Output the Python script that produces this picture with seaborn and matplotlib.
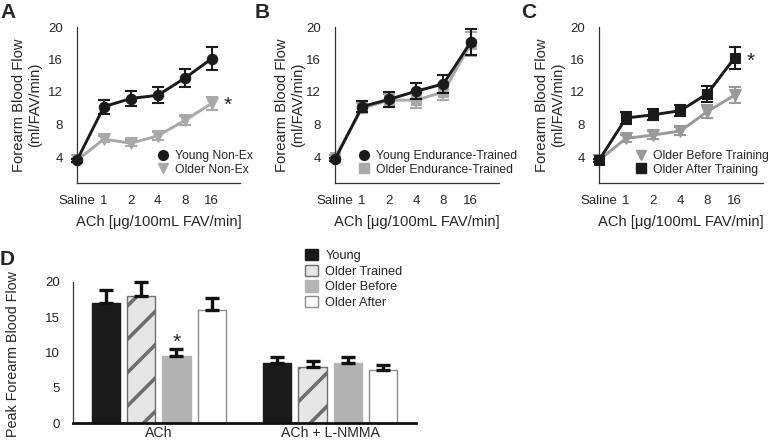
import numpy as np
import pandas as pd
import matplotlib
matplotlib.use('Agg')
import matplotlib.pyplot as plt
import seaborn as sns
from matplotlib.lines import Line2D
from matplotlib.patches import Patch

# dose labels for panels A-C
doses = ['Saline', '1', '2', '4', '8', '16']

# Panel A
young_nonex = [3.6, 10.2, 11.2, 11.6, 13.7, 16.1]
young_nonex_err = [0.2, 0.85, 0.9, 1.0, 1.1, 1.4]
older_nonex = [3.6, 6.2, 5.7, 6.6, 8.5, 10.6]
older_nonex_err = [0.2, 0.4, 0.35, 0.5, 0.6, 0.8]

# Panel B
young_trained = [3.7, 10.2, 11.1, 12.1, 13.0, 18.1]
young_trained_err = [0.2, 0.7, 0.9, 1.0, 1.1, 1.6]
older_trained = [4.0, 10.0, 11.0, 11.0, 12.0, 17.9]
older_trained_err = [0.2, 0.6, 0.8, 1.0, 1.0, 1.5]

# Panel C
older_before = [3.6, 6.3, 6.7, 7.2, 9.6, 11.6]
older_before_err = [0.2, 0.4, 0.5, 0.5, 0.8, 1.0]
older_after = [3.6, 8.8, 9.2, 9.7, 11.8, 16.2]
older_after_err = [0.2, 0.7, 0.7, 0.7, 1.0, 1.4]

# Panel D
conditions = ['ACh', 'ACh + L-NMMA']
groups = ['Young', 'Older Trained', 'Older Before', 'Older After']
peak_young = [17.0, 8.5]
peak_young_err = [1.9, 0.8]
peak_trained = [18.0, 7.9]
peak_trained_err = [2.0, 0.9]
peak_before = [9.5, 8.5]
peak_before_err = [1.0, 0.8]
peak_after = [16.0, 7.5]
peak_after_err = [1.8, 0.7]

sns.set_style('white')
plt.rcParams['font.family'] = ['Liberation Sans', 'DejaVu Sans']
plt.rcParams['hatch.linewidth'] = 2.6

W, H = 773, 447
fig = plt.figure(figsize=(W / 100, H / 100), dpi=100)

def rect(l, t, r, b):
    return [l / W, 1 - b / H, (r - l) / W, (b - t) / H]

BLACK = '#1a1a1a'
GREY = '#a9a9a9'

def line_panel(ax, series, leg_order, leg_x, ylab_x):
    pos = np.arange(len(doses))
    handles = {}
    for vals, err, color, marker, ms, label, z in series:
        sns.lineplot(x=pos, y=vals, color=color, linewidth=2.1, marker=marker,
                     markersize=ms, markeredgecolor=color, ax=ax, zorder=z,
                     clip_on=False)
        ax.errorbar(pos, vals, yerr=err, fmt='none', ecolor=color, elinewidth=1.5,
                    capsize=4, capthick=1.5, zorder=z, clip_on=False)
        handles[label] = Line2D([], [], linestyle='none', marker=marker, color=color,
                                markersize=ms - 0.5, label=label)
    ax.set_xlim(0, 6.05)
    ax.set_ylim(0.8, 20)
    ax.set_xticks(pos)
    ax.set_xticklabels(doses)
    ax.set_yticks([4, 8, 12, 16, 20])
    ax.tick_params(axis='both', length=0, labelsize=9.5)
    ax.tick_params(axis='x', pad=8.5)
    ax.tick_params(axis='y', pad=10)
    for s in ['top', 'right']:
        ax.spines[s].set_visible(False)
    for s in ['left', 'bottom']:
        ax.spines[s].set_color('#333333')
        ax.spines[s].set_linewidth(0.9)
    ax.set_ylabel('Forearm Blood Flow\n(ml/FAV/min)', fontsize=10.6, linespacing=1.2)
    ax.yaxis.set_label_coords(ylab_x, 0.5)
    ax.set_xlabel('ACh [\u03bcg/100mL FAV/min]', fontsize=10.6, labelpad=6)
    ax.legend(handles=[handles[k] for k in leg_order], loc='center left',
              bbox_to_anchor=(leg_x, 0.13), frameon=False, fontsize=8.7,
              handlelength=1.0, handletextpad=0.5, labelspacing=0.15,
              borderpad=0, borderaxespad=0)

# A
axA = fig.add_axes(rect(77, 27, 240, 183))
line_panel(axA, [
    (older_nonex, older_nonex_err, GREY, 'v', 8, 'Older Non-Ex', 2),
    (young_nonex, young_nonex_err, BLACK, 'o', 7.5, 'Young Non-Ex', 3),
], ['Young Non-Ex', 'Older Non-Ex'], 0.49, -0.215)
axA.text(5.6, 10.4, '*', fontsize=15, ha='center', va='center')

# B
axB = fig.add_axes(rect(335, 27, 499, 183))
line_panel(axB, [
    (older_trained, older_trained_err, GREY, 's', 7, 'Older Endurance-Trained', 2),
    (young_trained, young_trained_err, BLACK, 'o', 7.5, 'Young Endurance-Trained', 3),
], ['Young Endurance-Trained', 'Older Endurance-Trained'], 0.14, -0.183)

# C
axC = fig.add_axes(rect(599, 27, 763, 183))
line_panel(axC, [
    (older_before, older_before_err, '#999999', 'v', 8, 'Older Before Training', 2),
    (older_after, older_after_err, BLACK, 's', 7, 'Older After Training', 3),
], ['Older Before Training', 'Older After Training'], 0.22, -0.207)
axC.text(5.6, 15.8, '*', fontsize=15, ha='center', va='center')

# D
axD = fig.add_axes(rect(73, 282, 416, 423))
df = pd.DataFrame({
    'condition': conditions * 4,
    'group': np.repeat(groups, 2),
    'value': peak_young + peak_trained + peak_before + peak_after,
})
errs = [peak_young_err, peak_trained_err, peak_before_err, peak_after_err]
faces = ['#1a1a1a', '#e6e6e6', '#b3b3b3', '#ffffff']
edges = ['#1a1a1a', '#6e6e6e', '#b3b3b3', '#8a8a8a']
sns.barplot(data=df, x='condition', y='value', hue='group', hue_order=groups,
            order=conditions, width=0.825, gap=0.2, errorbar=None, legend=False,
            palette=faces, ax=axD)
bar_conts = list(axD.containers)
for i, cont in enumerate(bar_conts):
    xs, ys = [], []
    for bar in cont.patches:
        bar.set_facecolor(faces[i])
        bar.set_edgecolor(edges[i])
        bar.set_linewidth(1.0)
        if i == 1:
            bar.set_hatch('/')
        xs.append(bar.get_x() + bar.get_width() / 2)
        ys.append(bar.get_height())
    axD.errorbar(xs, ys, yerr=[np.zeros(len(ys)), errs[i]], fmt='none', ecolor='#111111',
                 elinewidth=2.4, capsize=5, capthick=2.4, zorder=1, clip_on=False)
    if i == 2:
        axD.text(xs[0], ys[0] + errs[i][0] + 1.0, '*', fontsize=15, ha='center', va='center')
axD.set_xlim(-0.5, 1.5)
axD.set_ylim(0, 20)
axD.set_yticks([0, 5, 10, 15, 20])
axD.tick_params(axis='both', length=0)
axD.tick_params(axis='y', labelsize=9.5, pad=9.5)
axD.tick_params(axis='x', labelsize=10.2, pad=2)
for s in ['top', 'right']:
    axD.spines[s].set_visible(False)
axD.spines['left'].set_color('#333333')
axD.spines['left'].set_linewidth(0.9)
axD.spines['bottom'].set_color('#111111')
axD.spines['bottom'].set_linewidth(2.0)
axD.set_xlabel('')
axD.set_ylabel('Peak Forearm Blood Flow', fontsize=10.3)
axD.yaxis.set_label_coords(-0.155, 0.49)
leg_handles = [Patch(facecolor=faces[i], edgecolor=edges[i] if i != 2 else faces[i],
                     linewidth=1.0, label=groups[i]) for i in range(4)]
fig.legend(handles=leg_handles, loc='upper left', bbox_to_anchor=(305 / W, 1 - 249 / H),
           frameon=False, fontsize=9.2, handlelength=1.0, handleheight=1.0,
           handletextpad=0.6, labelspacing=0.2, borderpad=0, borderaxespad=0)

# panel letters
for letter, x, y in [('A', 0, 3), ('B', 255, 3), ('C', 521, 3), ('D', 0, 250)]:
    fig.text(x / W, 1 - y / H, letter, fontsize=15, fontweight='bold', ha='left', va='top')

fig.savefig('out.png', dpi=100)
